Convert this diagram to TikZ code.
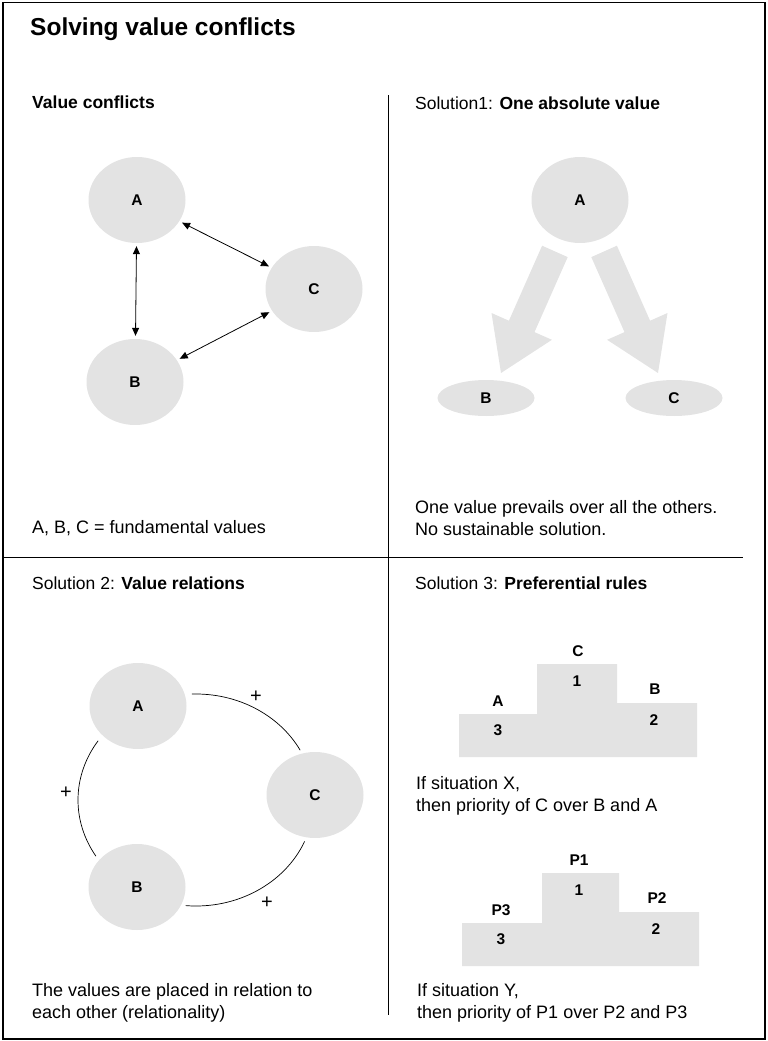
\documentclass[tikz,border=0pt]{standalone}
\usepackage{fontspec}
\setmainfont{Liberation Sans}
\usetikzlibrary{shapes.geometric,arrows.meta,calc}
\definecolor{disc}{RGB}{227,227,227}
\begin{document}
\begin{tikzpicture}[x=1pt,y=-1pt,
  circ/.style={ellipse,fill=disc,minimum width=97pt,minimum height=86pt,inner sep=0pt,font=\fontsize{15.5}{17}\selectfont\bfseries},
  flat/.style={ellipse,fill=disc,minimum width=97pt,minimum height=36pt,inner sep=0pt,font=\fontsize{15.5}{17}\selectfont\bfseries},
  txt/.style={anchor=base west,inner sep=0pt,font=\fontsize{18}{21}\selectfont},
  head/.style={anchor=base west,inner sep=0pt,font=\fontsize{17.5}{21}\selectfont},
  titlestyle/.style={anchor=base west,inner sep=0pt,font=\fontsize{24.5}{27}\selectfont\bfseries},
  lbl/.style={inner sep=0pt,font=\fontsize{15.5}{17}\selectfont\bfseries},
  conn/.style={line width=0.8pt,{Triangle[length=8pt,width=7pt]}-{Triangle[length=8pt,width=7pt]},shorten <=3pt,shorten >=3pt},
  rel/.style={line width=0.7pt},
  plus/.style={inner sep=0pt,font=\fontsize{20}{22}\selectfont},
  framestyle/.style={line width=1.2pt},
  divider/.style={line width=0.9pt},
  podium/.style={fill=disc},
  bigarrow/.style={fill=disc}
]
\useasboundingbox (0,0) rectangle (768,1041);
\draw[framestyle] (3,2.5) rectangle (765,1039);
\draw[divider] (388,95) -- (388,1015);
\draw[divider] (3,557) -- (743,557);

% title and headings
\node[titlestyle] (title) at (30,36) {Solving value conflicts};
\node[head] (h1) at (32,108) {\bfseries Value conflicts};
\node[head] (h2) at (415,109) {Solution1: \textbf{One absolute value}};
\node[head] (h3) at (32,589) {Solution 2: \textbf{Value relations}};
\node[head] (h4) at (415,589) {Solution 3: \textbf{Preferential rules}};

% panel 1: value conflicts
\node[circ] (A1) at (137,200) {A};
\node[circ] (B1) at (135,382) {B};
\node[circ] (C1) at (314,289) {C};
\draw[conn] (A1) -- (B1);
\draw[conn] (A1) -- (C1);
\draw[conn] (B1) -- (C1);
\node[txt] (cap1) at (32,533) {A, B, C = fundamental values};

% panel 2: one absolute value
\node[circ] (A2) at (580,200) {A};
\node[flat] (B2) at (486,398) {B};
\node[flat] (C2) at (674,398) {C};
\fill[bigarrow] (542.1,245.7) -- (508.9,320.7) -- (491.5,313.0) -- (501,373) -- (551.9,339.8) -- (534.5,332.1) -- (567.7,257.1) -- cycle;
\fill[bigarrow] (616.9,245.7) -- (650.1,320.7) -- (667.5,313.0) -- (658,373) -- (607.1,339.8) -- (624.5,332.1) -- (591.3,257.1) -- cycle;
\node[txt] (cap2a) at (415,513) {One value prevails over all the others.};
\node[txt] (cap2b) at (415,535) {No sustainable solution.};

% panel 3: value relations
\node[circ] (A3) at (138,706) {A};
\node[circ] (C3) at (315,795) {C};
\node[circ] (B3) at (137,887) {B};
\coordinate (O3) at (196,800);
\coordinate (ac) at ($(O3)+(-92:118 and 106)$);
\coordinate (ab) at ($(O3)+(148:118 and 106)$);
\coordinate (bc) at ($(O3)+(23:118 and 106)$);
\draw[rel] (ac) arc[start angle=-92,end angle=-28,x radius=118,y radius=106];
\draw[rel] (ab) arc[start angle=148,end angle=214,x radius=118,y radius=106];
\draw[rel] (bc) arc[start angle=23,end angle=95,x radius=118,y radius=106];
\node[plus] (p1) at (256,697) {+};
\node[plus] (p2) at (66,793) {+};
\node[plus] (p3) at (267,903) {+};
\node[txt] (cap3a) at (32,996) {The values are placed in relation to};
\node[txt] (cap3b) at (32,1018) {each other (relationality)};

% panel 4: preferential rules
\fill[podium] (459,757) -- (459,714) -- (537,714) -- (537,664) -- (617,664) -- (617,703) -- (697,703) -- (697,757) -- cycle;
\node[lbl] (pc) at (578,651) {C};
\node[lbl] (n1) at (577,681) {1};
\node[lbl] (pa) at (498,701) {A};
\node[lbl] (n3) at (498,730) {3};
\node[lbl] (pb) at (655,689) {B};
\node[lbl] (n2) at (654,720) {2};
\node[txt] (cap4a) at (416,789) {If situation X,};
\node[txt] (cap4b) at (416,811) {then priority of C over B and A};

\fill[podium] (462,966) -- (462,923) -- (542,923) -- (542,873) -- (619,873) -- (619,912) -- (699,912) -- (699,966) -- cycle;
\node[lbl] (q1) at (579,860) {P1};
\node[lbl] (m1) at (579,890) {1};
\node[lbl] (q3) at (501,910) {P3};
\node[lbl] (m3) at (501,939) {3};
\node[lbl] (q2) at (657,898) {P2};
\node[lbl] (m2) at (656,929) {2};
\node[txt] (cap5a) at (417,996) {If situation Y,};
\node[txt] (cap5b) at (417,1018) {then priority of P1 over P2 and P3};
\end{tikzpicture}
\end{document}
